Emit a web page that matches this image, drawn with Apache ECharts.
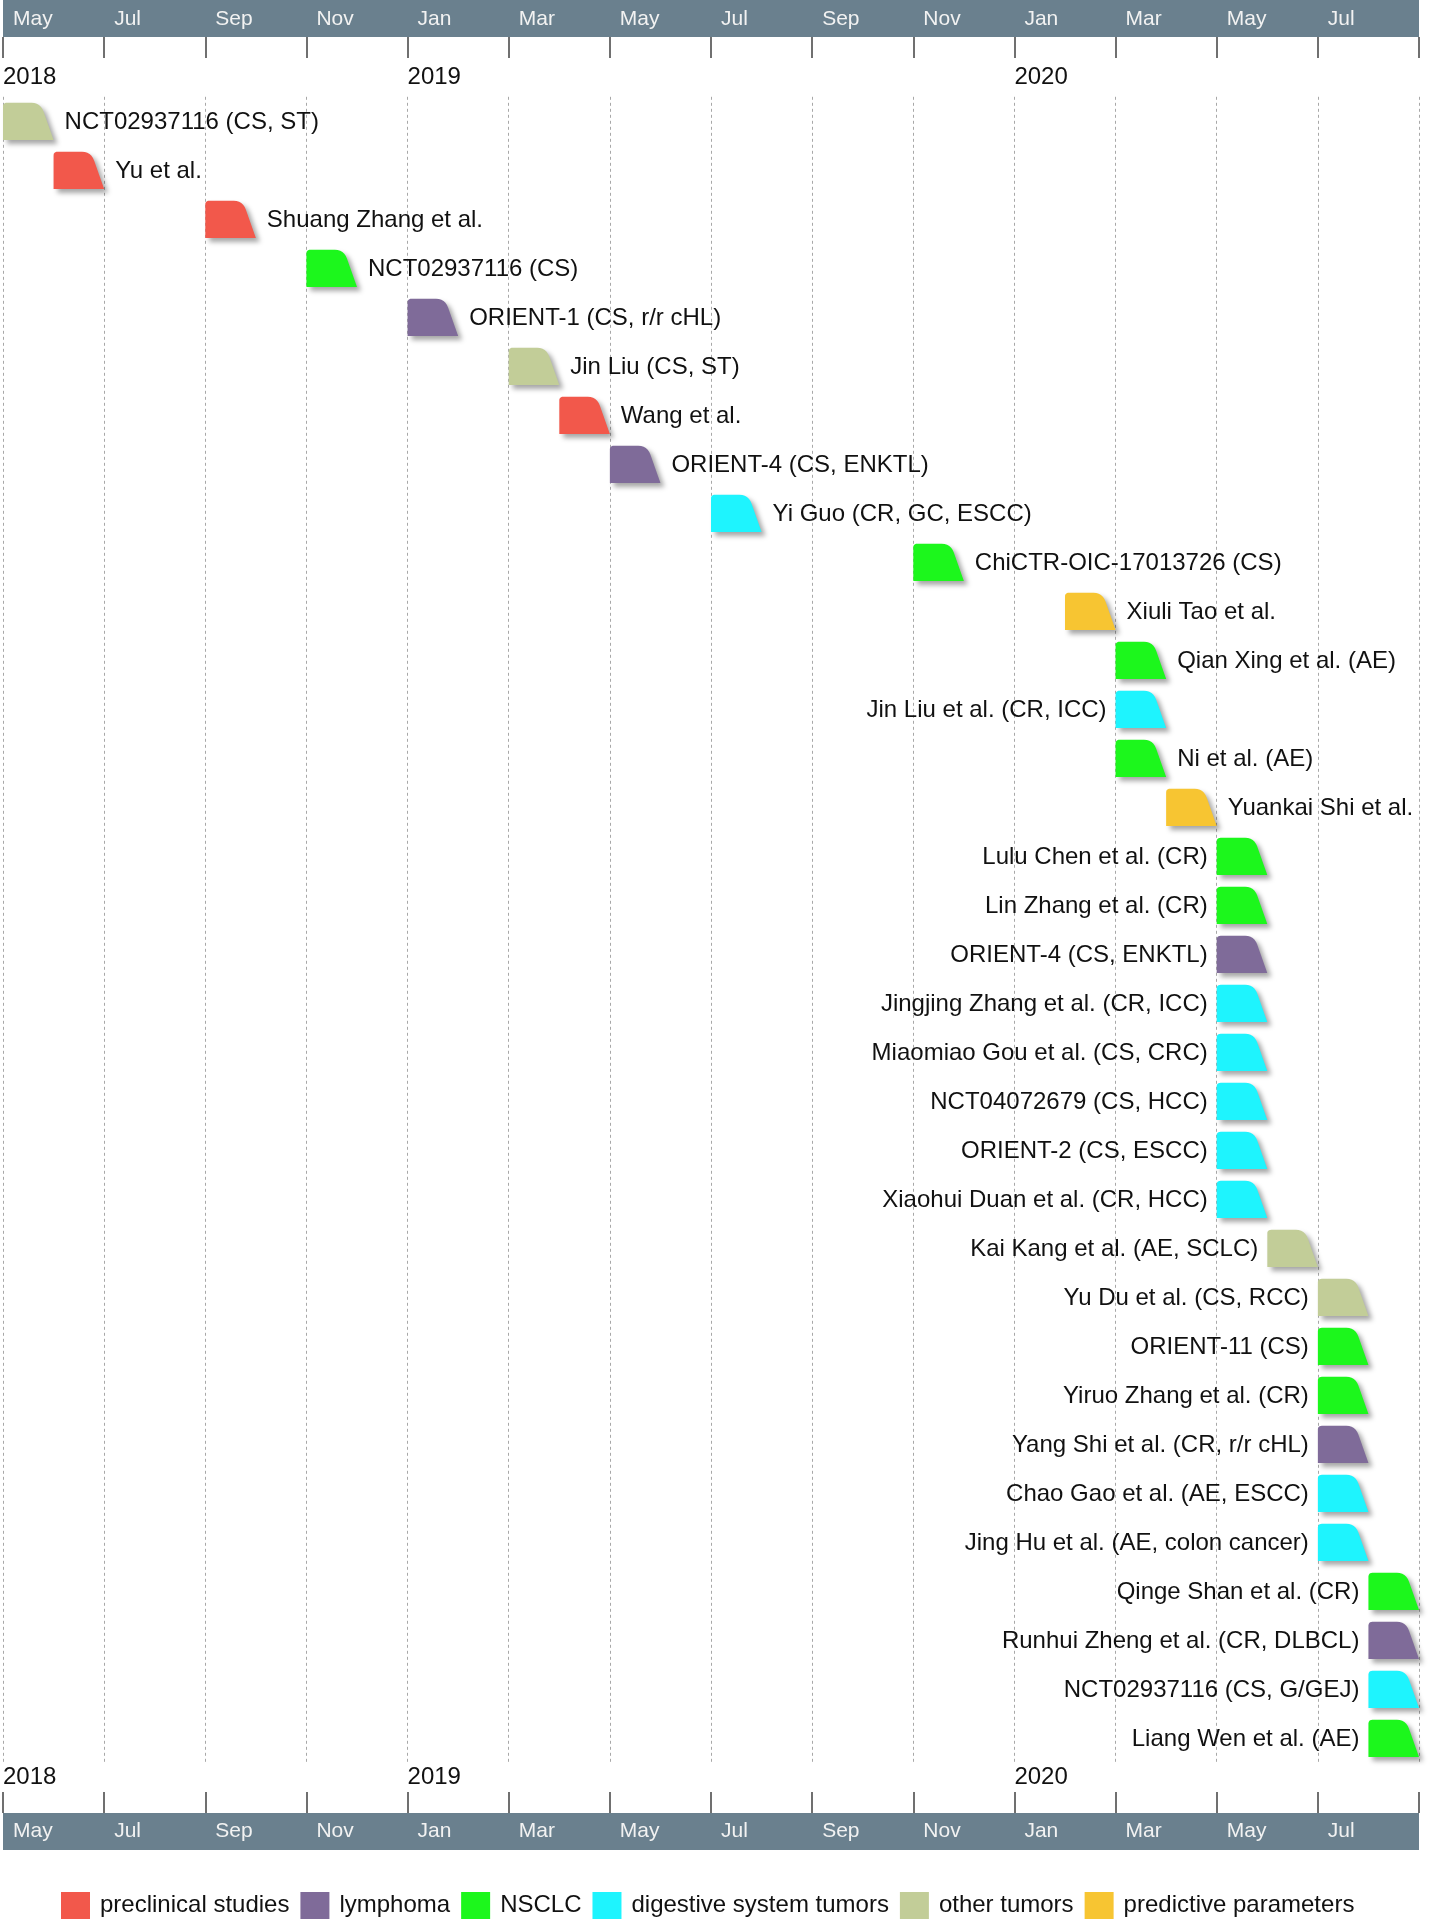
<!DOCTYPE html>
<html>
<head>
<meta charset="utf-8">
<script src="https://cdn.jsdelivr.net/npm/echarts@6/dist/echarts.min.js"></script>
<style>
  html, body { margin: 0; padding: 0; background: #fff; }
  #chart { width: 1429px; height: 1920px; }
</style>
</head>
<body>
<div id="chart"></div>
<script>
// months on the axis (index 0 = May 2018, axis runs to the end of Aug 2020)
const months = ['2018-05','2018-06','2018-07','2018-08','2018-09','2018-10','2018-11','2018-12',
  '2019-01','2019-02','2019-03','2019-04','2019-05','2019-06','2019-07','2019-08','2019-09','2019-10','2019-11','2019-12',
  '2020-01','2020-02','2020-03','2020-04','2020-05','2020-06','2020-07','2020-08'];
const monthAbbr = ['Jan','Feb','Mar','Apr','May','Jun','Jul','Aug','Sep','Oct','Nov','Dec'];
const yearTickPos = [0, 8, 20];
const yearLabels = ['2018', '2019', '2020'];

const groups = ['preclinical studies', 'lymphoma', 'NSCLC', 'digestive system tumors', 'other tumors', 'predictive parameters'];
const groupColors = ['#F2584B', '#7F6B99', '#1CF71C', '#1EF4FE', '#C2CD98', '#F7C532'];

const taskNames = [
  'NCT02937116 (CS, ST)', 'Yu et al.', 'Shuang Zhang et al.', 'NCT02937116 (CS)', 'ORIENT-1 (CS, r/r cHL)',
  'Jin Liu (CS, ST)', 'Wang et al.', 'ORIENT-4 (CS, ENKTL)', 'Yi Guo (CR, GC, ESCC)', 'ChiCTR-OIC-17013726 (CS)',
  'Xiuli Tao et al.', 'Qian Xing et al. (AE)', 'Jin Liu et al. (CR, ICC)', 'Ni et al. (AE)', 'Yuankai Shi et al.',
  'Lulu Chen et al. (CR)', 'Lin Zhang et al. (CR)', 'ORIENT-4 (CS, ENKTL)', 'Jingjing Zhang et al. (CR, ICC)',
  'Miaomiao Gou et al. (CS, CRC)', 'NCT04072679 (CS, HCC)', 'ORIENT-2 (CS, ESCC)', 'Xiaohui Duan et al. (CR, HCC)',
  'Kai Kang et al. (AE, SCLC)', 'Yu Du et al. (CS, RCC)', 'ORIENT-11 (CS)', 'Yiruo Zhang et al. (CR)',
  'Yang Shi et al. (CR, r/r cHL)', 'Chao Gao et al. (AE, ESCC)', 'Jing Hu et al. (AE, colon cancer)',
  'Qinge Shan et al. (CR)', 'Runhui Zheng et al. (CR, DLBCL)', 'NCT02937116 (CS, G/GEJ)', 'Liang Wen et al. (AE)'
];
const taskStart = [
  '2018-05', '2018-06', '2018-09', '2018-11', '2019-01', '2019-03', '2019-04', '2019-05', '2019-07', '2019-11',
  '2020-02', '2020-03', '2020-03', '2020-03', '2020-04',
  '2020-05', '2020-05', '2020-05', '2020-05', '2020-05', '2020-05', '2020-05', '2020-05',
  '2020-06', '2020-07', '2020-07', '2020-07', '2020-07', '2020-07', '2020-07',
  '2020-08', '2020-08', '2020-08', '2020-08'
];
// index into groups
const taskGroup = [4,0,0,2,1,4,0,1,3,2, 5,2,3,2,5,2,2,1,3,3, 3,3,3,4,4,2,2,1,3,3, 2,1,3,2];
const labelSide = ['R','R','R','R','R','R','R','R','R','R','R','R','L','R','R',
  'L','L','L','L','L','L','L','L','L','L','L','L','L','L','L','L','L','L','L'];

const FONT = '"Liberation Sans", Arial, sans-serif';
const rows = taskNames.map((_, i) => String(i + 1));

// rounded corner helper (quadratic curve sampled)
const quad = (p0, p1, p2, pts) => {
  for (let i = 1; i <= 6; i++) {
    const t = i / 6, u = 1 - t;
    pts.push([u * u * p0[0] + 2 * u * t * p1[0] + t * t * p2[0], u * u * p0[1] + 2 * u * t * p1[1] + t * t * p2[1]]);
  }
};

const makeRender = (items) => (params, api) => {
  const c = api.coord([api.value(0), api.value(1)]);
  const w = api.size([1, 0])[0];
  const rowH = api.size([0, 1])[1];
  const h = rowH * 0.76;
  const x0 = c[0], x1 = c[0] + w;
  const yt = c[1] - h / 2, yb = c[1] + h / 2;
  const xt = x0 + w * 0.74;
  const r1 = 4, r2 = 9;
  const pts = [[x0, yb], [x0, yt + r1]];
  quad([x0, yt + r1], [x0, yt], [x0 + r1, yt], pts);
  pts.push([xt - r2, yt]);
  quad([xt - r2, yt], [xt, yt], [xt + (x1 - xt) * r2 / h, yt + r2], pts);
  pts.push([x1, yb]);
  const right = api.value(2) === 1;
  return {
    type: 'group',
    children: [
      {
        type: 'polygon',
        shape: { points: pts },
        style: {
          fill: api.visual('color'),
          shadowBlur: 5, shadowOffsetX: 4, shadowOffsetY: 4, shadowColor: 'rgba(0,0,0,0.35)'
        }
      },
      {
        type: 'text',
        style: {
          text: items[params.dataIndex].name,
          x: right ? x1 + 11 : x0 - 9,
          y: c[1] + 1,
          align: right ? 'left' : 'right',
          verticalAlign: 'middle',
          fill: '#111',
          fontSize: 24,
          fontFamily: FONT
        }
      }
    ]
  };
};

const series = groups.map((g, gi) => {
  const items = [];
  taskNames.forEach((name, i) => {
    if (taskGroup[i] !== gi) return;
    items.push({ name, value: [months.indexOf(taskStart[i]), i, labelSide[i] === 'R' ? 1 : 0] });
  });
  return {
    name: g,
    type: 'custom',
    xAxisIndex: 1,
    yAxisIndex: 0,
    z: 5,
    itemStyle: { color: groupColors[gi] },
    renderItem: makeRender(items),
    data: items
  };
});

const monthFmt = (v) => (v < months.length ? monthAbbr[Number(months[v].slice(5)) - 1] : '');
const gridTop = 96.8, gridBottom = 157;
const bottomLine = 1920 - gridBottom;

const bandAxis = (pos, offset) => ({
  type: 'value', min: 0, max: months.length, position: pos, offset, z: 0,
  axisLine: { show: true, lineStyle: { color: '#6A808E', width: 37, cap: 'butt' } },
  axisTick: { show: false }, axisLabel: { show: false }, splitLine: { show: false }
});
const monthAxis = (pos, offset, margin, split) => ({
  type: 'value', min: 0, max: months.length, interval: 2, position: pos, offset, z: 2,
  axisLine: { show: false },
  axisTick: { show: true, inside: true, length: 21, lineStyle: { color: '#707070', width: 2 } },
  axisLabel: {
    formatter: monthFmt, showMaxLabel: true, align: 'left', padding: [0, 0, 0, 10],
    color: '#F2F2F2', fontSize: 21, fontFamily: FONT, margin
  },
  splitLine: { show: split, lineStyle: { color: '#a8a8a8', width: 1, type: [3, 3] } }
});
const yearAxis = (pos, margin) => ({
  type: 'value', min: 0, max: months.length, position: pos, offset: 0, z: 2,
  axisLine: { show: false }, axisTick: { show: false }, splitLine: { show: false },
  axisLabel: {
    customValues: yearTickPos,
    formatter: (v) => yearLabels[yearTickPos.indexOf(v)] || '',
    align: 'left', color: '#111', fontSize: 24, fontFamily: FONT, margin
  }
});

const chart = echarts.init(document.getElementById('chart'), null, { renderer: 'canvas' });
chart.setOption({
  animation: false,
  backgroundColor: '#fff',
  grid: { left: 1.5, right: 10, top: gridTop, bottom: gridBottom },
  legend: {
    data: groups,
    left: 56,
    top: 1887,
    icon: 'rect',
    itemWidth: 29,
    itemHeight: 27,
    itemGap: 11,
    textStyle: { fontSize: 24, color: '#111', fontFamily: FONT, padding: [0, 0, 0, 5] }
  },
  xAxis: [
    bandAxis('top', gridTop - 18.5),
    monthAxis('top', gridTop - 37, 7, true),
    yearAxis('top', 7),
    bandAxis('bottom', 1831 - bottomLine),
    monthAxis('bottom', 1813 - bottomLine, 8, false),
    yearAxis('bottom', 2)
  ],
  yAxis: {
    type: 'category', data: rows, inverse: true, show: false
  },
  series
});
</script>
</body>
</html>
